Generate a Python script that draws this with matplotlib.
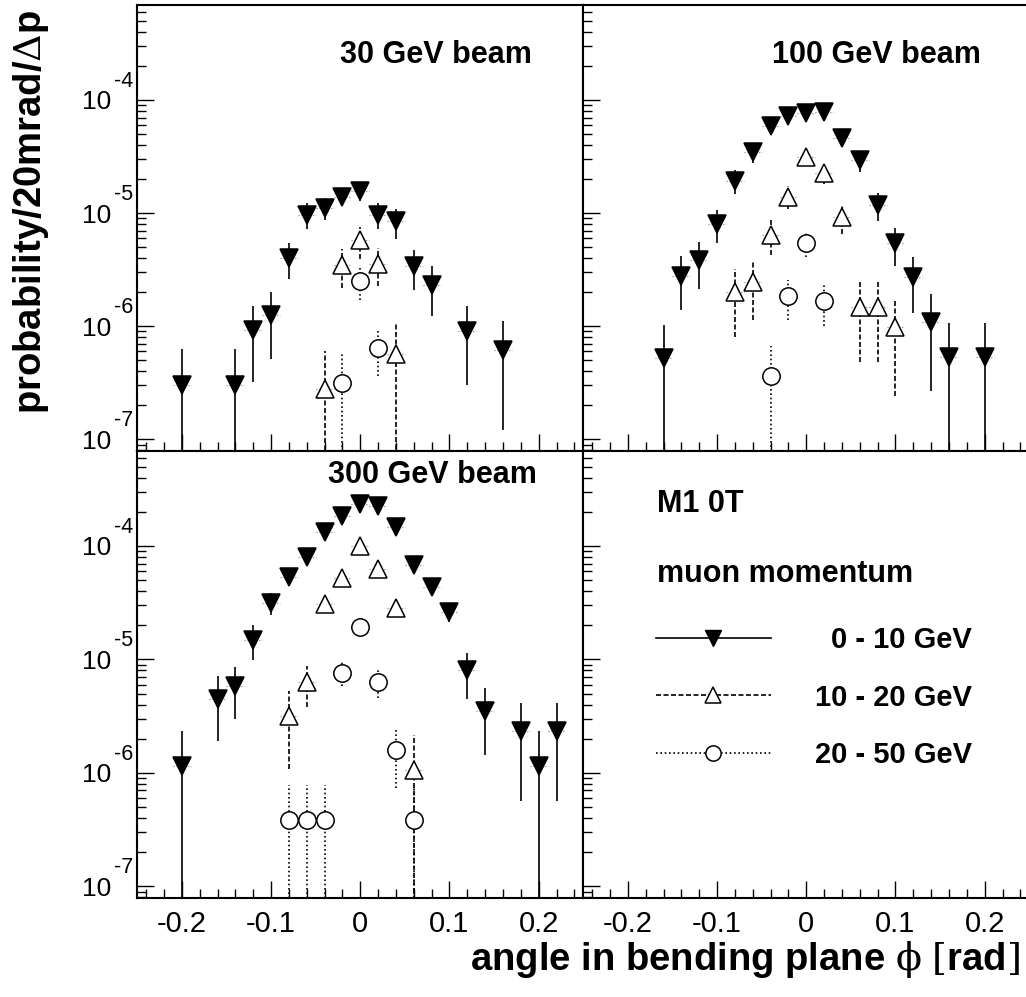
import numpy as np
import matplotlib
matplotlib.use('Agg')
import matplotlib.pyplot as plt
from matplotlib.lines import Line2D
from matplotlib.ticker import LogLocator, MultipleLocator, FixedFormatter, NullFormatter
from matplotlib.transforms import blended_transform_factory, offset_copy

plt.rcParams['font.family'] = ['Liberation Sans', 'DejaVu Sans']
plt.rcParams['mathtext.fontset'] = 'custom'
plt.rcParams['mathtext.sf'] = 'Liberation Sans'
plt.rcParams['mathtext.rm'] = 'DejaVu Serif'
plt.rcParams['mathtext.bf'] = 'Liberation Sans:bold'

# ---- data ----
# 30 GeV beam
b30_fill_x = [-0.20, -0.14, -0.12, -0.10, -0.08, -0.06, -0.04, -0.02, 0.00, 0.02, 0.04, 0.06, 0.08, 0.12, 0.16]
b30_fill_y = [3.05e-7, 3.05e-7, 9.2e-7, 1.26e-6, 4.0e-6, 9.7e-6, 1.12e-5, 1.40e-5, 1.57e-5, 9.7e-6, 8.45e-6, 3.38e-6, 2.33e-6, 9.0e-7, 6.2e-7]
b30_fill_e = [3.2e-7, 3.2e-7, 6.0e-7, 7.5e-7, 1.4e-6, 2.5e-6, 2.5e-6, 2.5e-6, 3.0e-6, 2.5e-6, 2.5e-6, 1.3e-6, 1.1e-6, 6.0e-7, 5.0e-7]
b30_tri_x = [-0.04, -0.02, 0.00, 0.02, 0.04]
b30_tri_y = [2.8e-7, 3.5e-6, 5.74e-6, 3.57e-6, 5.7e-7]
b30_tri_e = [3.2e-7, 1.3e-6, 1.8e-6, 1.3e-6, 5.0e-7]
b30_circ_x = [-0.02, 0.00, 0.02]
b30_circ_y = [3.16e-7, 2.49e-6, 6.4e-7]
b30_circ_e = [2.5e-7, 7.7e-7, 2.8e-7]

# 100 GeV beam
b100_fill_x = [-0.16, -0.14, -0.12, -0.10, -0.08, -0.06, -0.04, -0.02, 0.00, 0.02, 0.04, 0.06, 0.08, 0.10, 0.12, 0.14, 0.16, 0.20]
b100_fill_y = [5.25e-7, 2.8e-6, 3.82e-6, 8.05e-6, 1.94e-5, 3.5e-5, 5.9e-5, 7.27e-5, 7.62e-5, 7.79e-5, 4.59e-5, 2.92e-5, 1.18e-5, 5.43e-6, 2.72e-6, 1.1e-6, 5.36e-7, 5.36e-7]
b100_fill_e = [5.0e-7, 1.4e-6, 1.7e-6, 2.6e-6, 4.5e-6, 7e-6, 7e-6, 6e-6, 6e-6, 6e-6, 6e-6, 6e-6, 3.3e-6, 2.0e-6, 1.4e-6, 8.3e-7, 5.4e-7, 5.4e-7]
b100_tri_x = [-0.08, -0.06, -0.04, -0.02, 0.00, 0.02, 0.04, 0.06, 0.08, 0.10]
b100_tri_y = [2.0e-6, 2.44e-6, 6.45e-6, 1.40e-5, 3.16e-5, 2.25e-5, 9.33e-6, 1.48e-6, 1.48e-6, 9.9e-7]
b100_tri_e = [1.2e-6, 1.3e-6, 2.2e-6, 3.2e-6, 4.0e-6, 4.5e-6, 2.8e-6, 1.0e-6, 1.0e-6, 7.5e-7]
b100_circ_x = [-0.04, -0.02, 0.00, 0.02]
b100_circ_y = [3.66e-7, 1.86e-6, 5.43e-6, 1.66e-6]
b100_circ_e = [3.0e-7, 7.3e-7, 1.3e-6, 6.5e-7]

# 300 GeV beam
b300_fill_x = [-0.20, -0.16, -0.14, -0.12, -0.10, -0.08, -0.06, -0.04, -0.02, 0.00, 0.02, 0.04, 0.06, 0.08, 0.10, 0.12, 0.14, 0.18, 0.20, 0.22]
b300_fill_y = [1.15e-6, 4.49e-6, 5.77e-6, 1.49e-5, 3.15e-5, 5.36e-5, 8.05e-5, 1.34e-4, 1.84e-4, 2.34e-4, 2.23e-4, 1.48e-4, 6.79e-5, 4.36e-5, 2.62e-5, 8.0e-6, 3.54e-6, 2.36e-6, 1.15e-6, 2.36e-6]
b300_fill_e = [1.2e-6, 2.6e-6, 2.8e-6, 5e-6, 7e-6, 8e-6, 1e-5, 1.2e-5, 1.3e-5, 1.5e-5, 1.5e-5, 1.2e-5, 8e-6, 7e-6, 5e-6, 3.5e-6, 2.1e-6, 1.8e-6, 1.2e-6, 1.8e-6]
b300_tri_x = [-0.08, -0.06, -0.04, -0.02, 0.00, 0.02, 0.04, 0.06]
b300_tri_y = [3.19e-6, 6.3e-6, 3.07e-5, 5.18e-5, 1.0e-4, 6.22e-5, 2.86e-5, 1.06e-6]
b300_tri_e = [2.1e-6, 2.5e-6, 5e-6, 7e-6, 1e-5, 8e-6, 5e-6, 1.1e-6]
b300_circ_x = [-0.08, -0.06, -0.04, -0.02, 0.00, 0.02, 0.04, 0.06]
b300_circ_y = [3.81e-7, 3.81e-7, 3.81e-7, 7.62e-6, 1.93e-5, 6.3e-6, 1.58e-6, 3.81e-7]
b300_circ_e = [4.0e-7, 4.0e-7, 4.0e-7, 1.8e-6, 2.5e-6, 1.7e-6, 8.5e-7, 4.0e-7]

beam_titles = ['30 GeV beam', '100 GeV beam', '300 GeV beam']
legend_labels = ['0 - 10 GeV', '10 - 20 GeV', '20 - 50 GeV']
x_ticks = [-0.2, -0.1, 0, 0.1, 0.2]
x_ticklabels = ['-0.2', '-0.1', '0', '0.1', '0.2']
y_decades = [1e-7, 1e-6, 1e-5, 1e-4]
y_exponents = ['-7', '-6', '-5', '-4']

DASH = (0, (3, 1.5))
DOT = (0, (1, 1.6))


def draw(ax, x, y, e, marker, face, ls):
    x = np.array(x)
    y = np.array(y)
    e = np.array(e)
    lo = np.where(e >= y, y * 0.999, e)
    eb = ax.errorbar(x, y, yerr=[lo, e], fmt='none', ecolor='k', elinewidth=1.2, zorder=2)
    eb[2][0].set_linestyle(ls)
    hb = ax.errorbar(x, y, xerr=0.01, fmt='none', ecolor='0.5', elinewidth=0.8, zorder=2)
    hb[2][0].set_linestyle(':')
    ax.plot(x, y, ls='none', marker=marker, ms=12.5, mfc=face, mec='k', mew=1.1, zorder=3)


def style(ax, xlab, ylab):
    ax.set_xlim(-0.25, 0.25)
    ax.set_yscale('log')
    ax.set_ylim(7.94e-8, 6.9e-4)
    ax.xaxis.set_major_locator(MultipleLocator(0.1))
    ax.xaxis.set_minor_locator(MultipleLocator(0.02))
    ax.set_yticks(y_decades)
    ax.yaxis.set_minor_locator(LogLocator(base=10, subs=np.arange(2, 10), numticks=20))
    ax.yaxis.set_minor_formatter(NullFormatter())
    ax.tick_params(which='both', direction='in', top=False, right=False)
    ax.tick_params(which='major', length=12.5, width=1.0)
    ax.tick_params(which='minor', length=6.5, width=1.0)
    ax.tick_params(axis='x', labelsize=21, pad=9)
    ax.tick_params(axis='y', labelsize=19, pad=19)
    if xlab:
        ax.set_xticks(x_ticks)
        ax.set_xticklabels(x_ticklabels)
    else:
        ax.tick_params(axis='x', labelbottom=False)
    if ylab:
        ax.yaxis.set_major_formatter(FixedFormatter(['10'] * len(y_decades)))
        # ROOT-style exponent, raised beside the "10"
        base = blended_transform_factory(ax.transAxes, ax.transData)
        tr = offset_copy(base, fig=ax.figure, x=-4, y=13, units='dots')
        for v, ex in zip(y_decades, y_exponents):
            ax.text(0, v, ex, transform=tr, ha='right', va='baseline', fontsize=15.5)
    else:
        ax.tick_params(axis='y', labelleft=False)
    for s in ax.spines.values():
        s.set_linewidth(1.5)


fig = plt.figure(figsize=(10.26, 9.97), dpi=100)
ax_tl = fig.add_axes([0.1338, 0.5479, 0.4347, 0.447])
ax_tr = fig.add_axes([0.5685, 0.5479, 0.4347, 0.447])
ax_bl = fig.add_axes([0.1338, 0.0996, 0.4347, 0.4483])
ax_br = fig.add_axes([0.5685, 0.0996, 0.4347, 0.4483])

panels = [
    (ax_tl, (b30_fill_x, b30_fill_y, b30_fill_e), (b30_tri_x, b30_tri_y, b30_tri_e), (b30_circ_x, b30_circ_y, b30_circ_e)),
    (ax_tr, (b100_fill_x, b100_fill_y, b100_fill_e), (b100_tri_x, b100_tri_y, b100_tri_e), (b100_circ_x, b100_circ_y, b100_circ_e)),
    (ax_bl, (b300_fill_x, b300_fill_y, b300_fill_e), (b300_tri_x, b300_tri_y, b300_tri_e), (b300_circ_x, b300_circ_y, b300_circ_e)),
]
for ax, fill, tri, circ in panels:
    draw(ax, *fill, 'v', 'k', '-')
    draw(ax, *tri, '^', 'white', DASH)
    draw(ax, *circ, 'o', 'white', DOT)

style(ax_tl, False, True)
style(ax_tr, False, False)
style(ax_bl, True, True)
style(ax_br, True, False)

title_kw = dict(fontsize=22, fontweight='bold', ha='left', va='baseline')
ax_tl.text(0.4545, 0.870, beam_titles[0], transform=ax_tl.transAxes, **title_kw)
ax_tr.text(0.4224, 0.870, beam_titles[1], transform=ax_tr.transAxes, **title_kw)
ax_bl.text(0.4276, 0.928, beam_titles[2], transform=ax_bl.transAxes, **title_kw)

ax_br.text(0.1646, 0.8635, 'M1 0T', transform=ax_br.transAxes, **title_kw)
ax_br.text(0.1646, 0.707, 'muon momentum', transform=ax_br.transAxes, **title_kw)

# legend: samples from the library, labels right-aligned afterwards
fs = 21
handles = [
    Line2D([], [], color='k', lw=1.2, ls='-', marker='v', ms=11, mfc='k', mec='k'),
    Line2D([], [], color='k', lw=1.2, ls=DASH, marker='^', ms=11, mfc='white', mec='k', mew=1.1),
    Line2D([], [], color='k', lw=1.2, ls=DOT, marker='o', ms=11, mfc='white', mec='k', mew=1.1),
]
leg = ax_br.legend(handles, ['', '', ''], loc='upper left', bbox_to_anchor=(0.163, 0.608),
                   frameon=False, fontsize=fs, handlelength=3.94, handletextpad=0,
                   borderpad=0, borderaxespad=0, labelspacing=1.01, numpoints=1)

fig.text(0.030, 0.99, r'probability/20mrad/$\mathrm{\Delta}$p', rotation=90,
         ha='center', va='top', fontsize=27.5, fontweight='bold')
fig.text(0.994, 0.027, r'angle in bending plane $\mathrm{\phi}$ $\mathrm{[}$rad$\mathrm{]}$',
         ha='right', va='baseline', fontsize=27.5, fontweight='bold')

fig.canvas.draw()
renderer = fig.canvas.get_renderer()
fs_px = fs * fig.dpi / 72.0
for line, lab in zip(leg.get_lines(), legend_labels):
    bb = line.get_window_extent(renderer)
    yc = 0.5 * (bb.y0 + bb.y1)
    yb = ax_br.transAxes.inverted().transform((0, yc - 0.36 * fs_px))[1]
    ax_br.text(0.871, yb, lab, transform=ax_br.transAxes, ha='right', va='baseline',
               fontsize=fs, fontweight='bold')

fig.savefig('out.png', dpi=100)
